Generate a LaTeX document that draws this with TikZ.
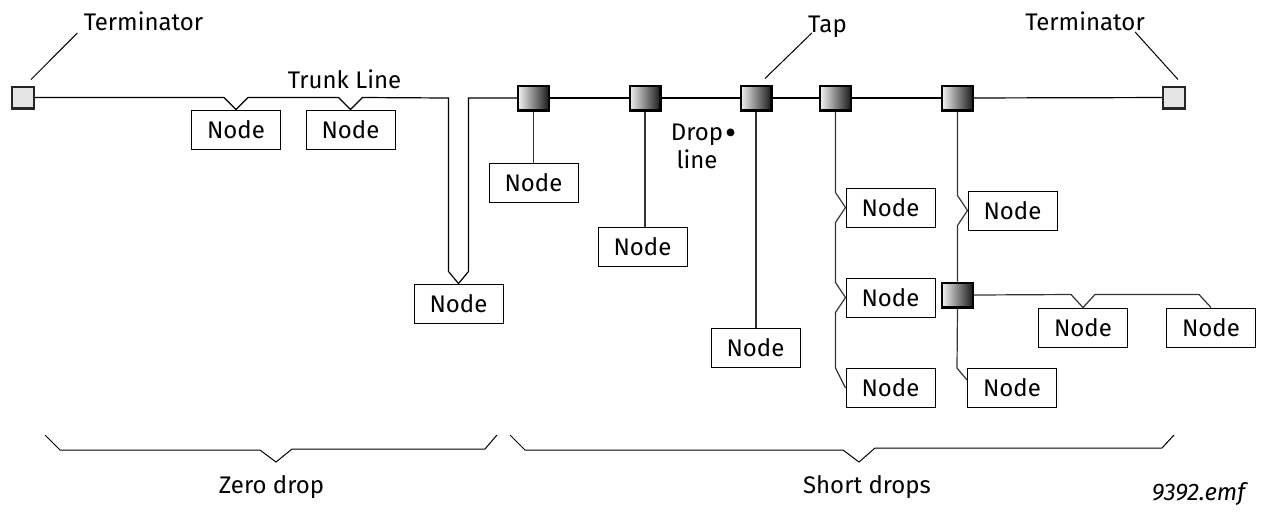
\documentclass[tikz,border=0pt]{standalone}
\usepackage{fontspec}
\setmainfont{Fira Sans}
\usetikzlibrary{calc,positioning}
\tikzset{
    nodebox/.style = {draw, rectangle, line width=0.5pt,
        minimum width=44.5pt, minimum height=19.5pt, inner sep=0pt},
    tapbox/.style = {draw, rectangle, line width=1.1pt,
        minimum width=15.4pt, minimum height=12.4pt, inner sep=0pt,
        left color=black!5, right color=black!90},
    termbox/.style = {draw=black!85, rectangle, line width=1.1pt,
        fill=black!10, minimum size=10.9pt, inner sep=0pt},
    trunk/.style = {draw, line width=0.6pt},
    drop/.style = {draw, black!80, line width=0.6pt},
    leader/.style = {draw, line width=0.5pt},
    lbl/.style = {inner sep=0pt, anchor=base}
}

\begin{document}
\begin{tikzpicture}[x=0.5pt, y=-0.5pt, every node/.style={font=\fontsize{12}{14}\selectfont}]
  \useasboundingbox (0,0) rectangle (1265,511);
  % terminators and taps
  \node[termbox] (term1) at (23,97.5) {};
  \node[termbox] (term2) at (1174,97.5) {};
  \node[tapbox] (tap1) at (533.5,98) {};
  \node[tapbox] (tap2) at (645,98) {};
  \node[tapbox] (tap3) at (756,98) {};
  \node[tapbox] (tap4) at (835.5,98) {};
  \node[tapbox] (tap5) at (957.5,98) {};
  \node[tapbox] (tap6) at (957.5,295) {};
  % nodes
  \node[nodebox] (n1) at (236,129.5) {Node};
  \node[nodebox] (n2) at (350.5,129.5) {Node};
  \node[nodebox] (n3) at (458.5,303.5) {Node};
  \node[nodebox] (n4) at (533.5,183) {Node};
  \node[nodebox] (n5) at (642.5,246.5) {Node};
  \node[nodebox] (n6) at (755.5,348) {Node};
  \node[nodebox] (n7) at (890.5,207.5) {Node};
  \node[nodebox] (n8) at (890.5,297.5) {Node};
  \node[nodebox] (n9) at (890.5,388) {Node};
  \node[nodebox] (n10) at (1012.5,210.5) {Node};
  \node[nodebox] (n11) at (1083,327.5) {Node};
  \node[nodebox] (n12) at (1211,327.5) {Node};
  \node[nodebox] (n13) at (1012,388) {Node};
  % labels
  \node[lbl] (lterm1) at (143.5,30) {Terminator};
  \node[lbl] (lterm2) at (1085,30) {Terminator};
  \node[lbl] (ltap) at (827.5,32) {Tap};
  \node[lbl] (ltrunk) at (344.5,88) {Trunk Line};
  \node[lbl, align=center] (ldrop) at (697,168) {Drop\rlap{\kern1pt\raisebox{-2pt}{\fontsize{17}{17}\selectfont\textbullet}}\\line};
  \node[lbl] (lzero) at (271.5,493) {Zero drop};
  \node[lbl] (lshort) at (867,493) {Short drops};
  \node[lbl, font=\fontsize{12}{14}\selectfont\itshape] (lfile) at (1198.5,500) {9392.emf};
  % trunk line
  \coordinate (n3l) at ($(n3.north)+(-10,-12)$);
  \coordinate (n3r) at ($(n3.north)+(10,-12)$);
  \draw[trunk] (term1.east) -- ($(n1.north)+(-12,-12)$) -- (n1.north) -- ($(n1.north)+(12,-12)$)
    -- ($(n2.north)+(-12,-12)$) -- (n2.north) -- ($(n2.north)+(12,-12)$)
    -- (n3l |- tap1) -- (n3l) -- (n3.north) -- (n3r) -- (n3r |- tap1) -- (tap1.west);
  \draw[trunk] (tap1) -- (tap2);
  \draw[trunk] (tap2) -- (tap3);
  \draw[trunk] (tap3) -- (tap4);
  \draw[trunk] (tap4) -- (tap5);
  \draw[trunk] (tap5) -- (term2);
  % drop lines
  \draw[drop] (tap1) -- (n4);
  \draw[drop] (tap2.south) -- (tap2.south |- n5.north);
  \draw[drop] (tap3.south) -- (tap3.south |- n6.north);
  \draw[drop] (tap4.south) -- ($(n7.west)+(-10,-15)$) -- (n7.west) -- ($(n7.west)+(-10,15)$)
    -- ($(n8.west)+(-10,-15)$) -- (n8.west) -- ($(n8.west)+(-10,15)$)
    -- ($(n9.west)+(-10,-20)$) -- (n9.west);
  \draw[drop] (tap5.south) -- ($(n10.west)+(-10,-15)$) -- (n10.west) -- ($(n10.west)+(-10,15)$) -- (tap6.north);
  \draw[drop] (tap6.south) -- ($(n13.west)+(-10,-20)$) -- ($(n13.west)+(0,-8)$);
  \draw[drop] (tap6.east) -- ($(n11.north)+(-12,-13)$) -- (n11.north) -- ($(n11.north)+(12,-13)$)
    -- ($(n12.north)+(-12,-13)$) -- (n12.north);
  % leaders
  \draw[leader] ($(lterm1.base west)+(-6,3)$) -- ($(term1.north)+(8,-6)$);
  \draw[leader] ($(lterm2.base east)+(-10,2)$) -- ($(term2.north)+(4,-6)$);
  \draw[leader] ($(ltap.base west)+(4,1)$) -- ($(tap3.north)+(9,-6)$);
  % braces
  \draw[leader] (45,435) -- (60,450) -- (260,450) -- (276,462) -- (292,449) -- (485,449) -- (497,435);
  \draw[leader] (510,435) -- (525,450) -- (843,450) -- (859,462) -- (875,448) -- (1162,448) -- (1174,435);
\end{tikzpicture}
\end{document}
